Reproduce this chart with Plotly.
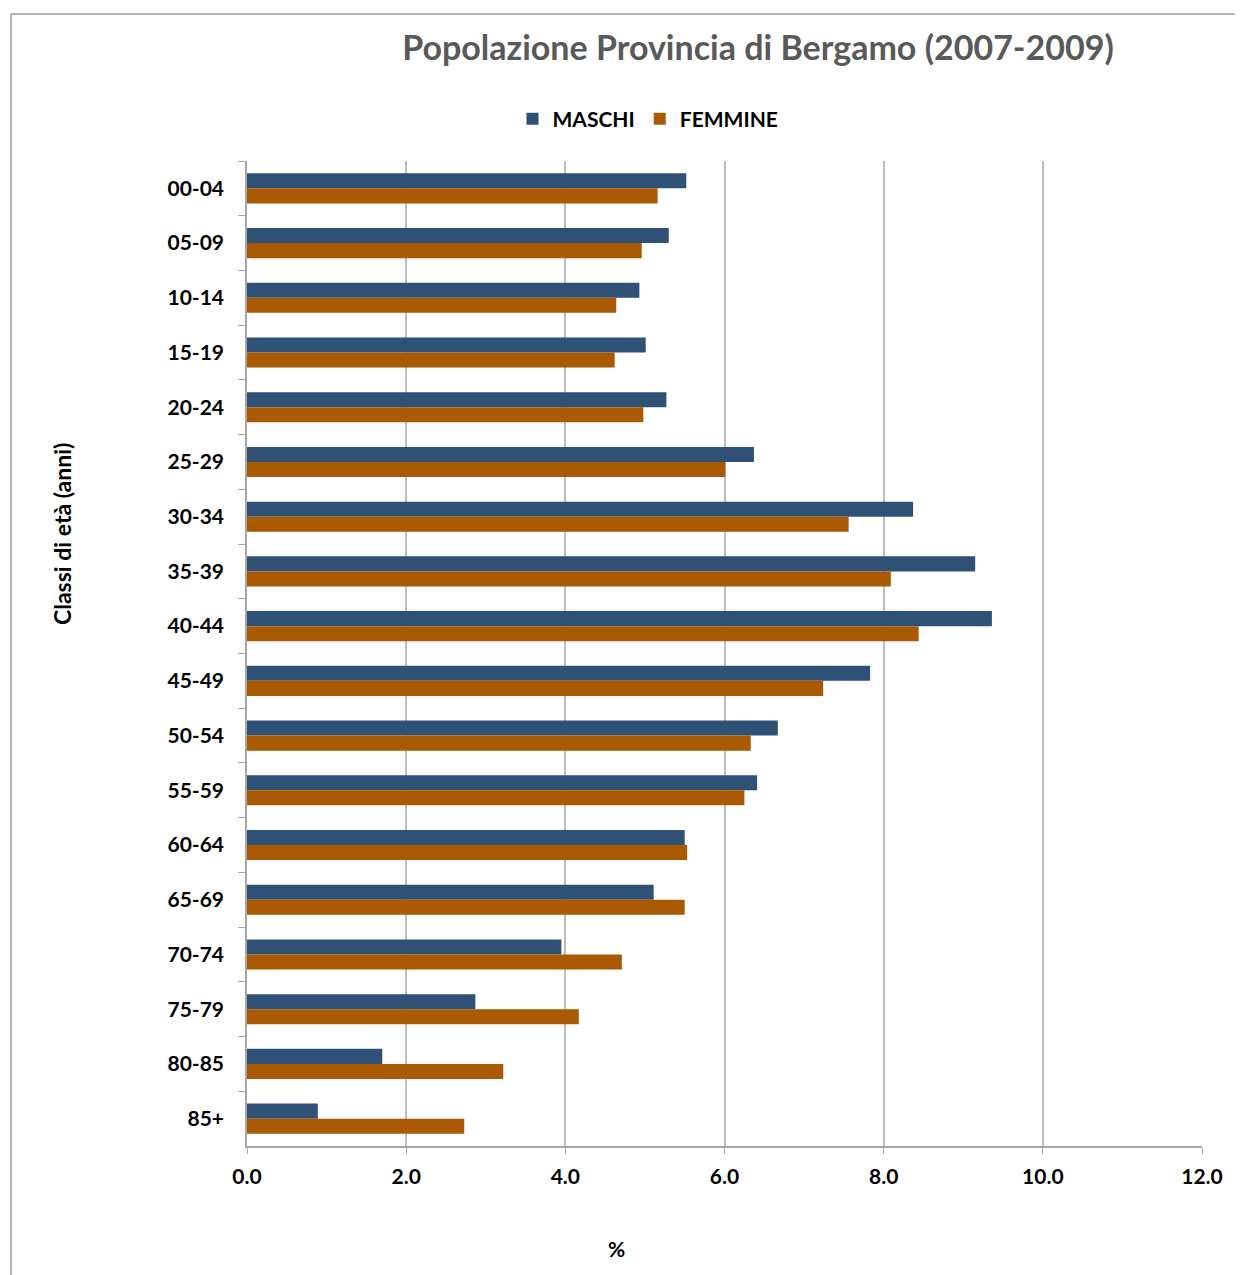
import plotly.graph_objects as go

categories = ["00-04", "05-09", "10-14", "15-19", "20-24", "25-29", "30-34", "35-39",
              "40-44", "45-49", "50-54", "55-59", "60-64", "65-69", "70-74", "75-79",
              "80-85", "85+"]
maschi = [5.52, 5.30, 4.93, 5.01, 5.27, 6.37, 8.37, 9.15, 9.36, 7.83, 6.67, 6.41,
          5.50, 5.11, 3.95, 2.87, 1.70, 0.89]
femmine = [5.16, 4.96, 4.64, 4.62, 4.98, 6.01, 7.56, 8.09, 8.44, 7.24, 6.33, 6.25,
           5.53, 5.50, 4.71, 4.17, 3.22, 2.73]
x_ticks = [0, 2, 4, 6, 8, 10, 12]
x_ticklabels = ["0.0", "2.0", "4.0", "6.0", "8.0", "10.0", "12.0"]

FONT = "Lato, Carlito, Calibri, 'Open Sans', sans-serif"
OFF = 8  # page body margin
W, H = 1243 - OFF, 1275 - OFF
L, R, T, B = 247 - OFF, 1243 - 1202, 161 - OFF, 1275 - 1146

fig = go.Figure()
fig.add_trace(go.Bar(y=categories, x=maschi, name="MASCHI", orientation="h",
                     marker=dict(color="#2F5175", line=dict(width=0))))
fig.add_trace(go.Bar(y=categories, x=femmine, name="FEMMINE", orientation="h",
                     marker=dict(color="#AA5A03", line=dict(width=0))))

pw, ph = W - L - R, H - T - B
def px2x(p):
    return (p - OFF - L) / pw
def py2y(p):
    return (H - B - (p - OFF)) / ph

fig.update_layout(
    width=W, height=H,
    margin=dict(l=L, r=R, t=T, b=B, autoexpand=False),
    paper_bgcolor="white", plot_bgcolor="white",
    barmode="group", bargap=0.45, bargroupgap=0,
    font=dict(family=FONT, color="black"),
    title=dict(text="<b>Popolazione Provincia di Bergamo (2007-2009)</b>",
               font=dict(family=FONT, size=34, color="#595959"),
               x=(758 - OFF) / W, xanchor="center", y=1 - (48 - OFF) / H, yanchor="middle"),
    legend=dict(orientation="h", x=px2x(648), xanchor="center",
                y=py2y(119), yanchor="middle",
                font=dict(family=FONT, size=21, color="black", weight="bold"),
                itemwidth=30, tracegroupgap=0, traceorder="normal"),
    xaxis=dict(range=[0, 12], tickvals=x_ticks, ticktext=x_ticklabels,
               showgrid=True, gridcolor="#BDBDBD", gridwidth=1.5,
               showline=True, linecolor="#A6A6A6", linewidth=1.5,
               ticks="outside", ticklen=6, tickcolor="#A6A6A6",
               tickfont=dict(family=FONT, size=21, color="black", weight="bold"),
               ticklabelstandoff=5,
               zeroline=False, fixedrange=True),
    yaxis=dict(type="category", categoryorder="array", categoryarray=categories,
               autorange="reversed", showgrid=False,
               showline=True, linecolor="#A6A6A6", linewidth=1.5,
               ticks="outside", tickson="boundaries", ticklen=7, tickcolor="#A6A6A6",
               tickfont=dict(family=FONT, size=21, color="black", weight="bold"),
               ticklabelstandoff=17, fixedrange=True),
    showlegend=True,
)

fig.add_annotation(text="<b>Classi di età (anni)</b>", xref="paper", yref="paper",
                   x=px2x(62), y=py2y(534), textangle=-90, showarrow=False,
                   font=dict(family=FONT, size=23, color="black"),
                   xanchor="center", yanchor="middle")
fig.add_annotation(text="<b>%</b>", xref="paper", yref="paper",
                   x=px2x(616), y=py2y(1248), showarrow=False,
                   font=dict(family=FONT, size=21, color="black"),
                   xanchor="center", yanchor="middle")

# outer chart frame
fig.add_shape(type="line", xref="paper", yref="paper",
              x0=px2x(11), x1=px2x(1243), y0=py2y(14), y1=py2y(14),
              line=dict(color="#9E9E9E", width=1.5))
fig.add_shape(type="line", xref="paper", yref="paper",
              x0=px2x(11), x1=px2x(11), y0=py2y(14), y1=py2y(1275),
              line=dict(color="#9E9E9E", width=1.5))

fig.write_html("out.html")
